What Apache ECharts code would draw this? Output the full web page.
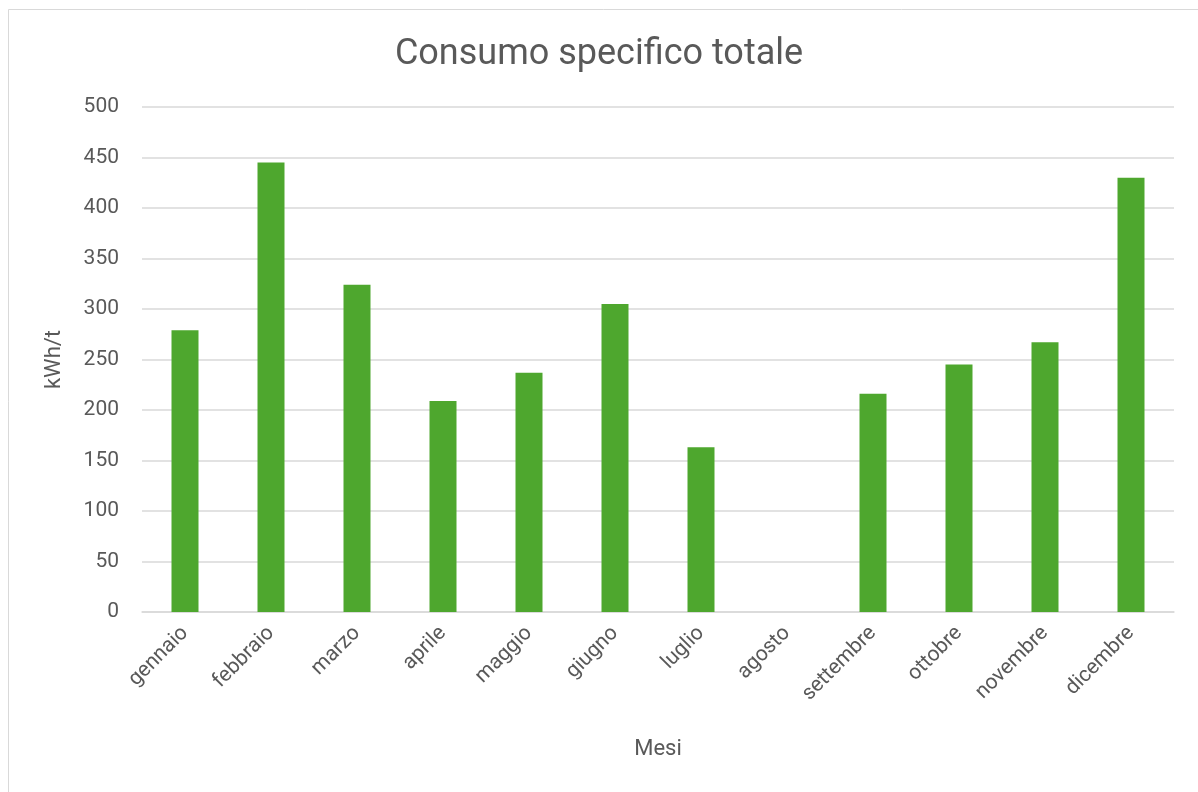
<!DOCTYPE html>
<html>
<head>
<meta charset="utf-8">
<script src="https://cdn.jsdelivr.net/npm/echarts@6/dist/echarts.min.js"></script>
<style>
html,body{margin:0;padding:0;background:#fff;}
#chart{width:1198px;height:792px;}
</style>
</head>
<body>
<div id="chart"></div>
<script>
const categories = ['gennaio','febbraio','marzo','aprile','maggio','giugno','luglio','agosto','settembre','ottobre','novembre','dicembre'];
const values = [279, 445, 324, 209, 237, 305, 163, 0, 216, 245, 267, 430];
const titleText = 'Consumo specifico totale';
const yName = 'kWh/t';
const xName = 'Mesi';

const chart = echarts.init(document.getElementById('chart'));
const textColor = '#595959';
const fontFam = 'Roboto, "Liberation Sans", sans-serif';
chart.setOption({
  backgroundColor: '#fff',
  animation: false,
  graphic: [{
    type: 'rect',
    shape: {x: 8.5, y: 9.5, width: 1200, height: 800},
    style: {fill: 'none', stroke: '#D9D9D9', lineWidth: 1},
    silent: true
  }],
  title: {
    text: titleText,
    left: 'center',
    top: 32,
    textStyle: {fontFamily: fontFam, fontSize: 36, fontWeight: 'normal', color: textColor}
  },
  grid: {left: 142, right: 24, top: 107, bottom: 180, containLabel: false},
  xAxis: {
    type: 'category',
    data: categories,
    name: xName,
    nameLocation: 'middle',
    nameGap: 126,
    nameTextStyle: {fontFamily: fontFam, fontSize: 22, color: textColor},
    axisLine: {show: true, lineStyle: {color: '#D9D9D9', width: 1.5}},
    axisTick: {show: false},
    axisLabel: {rotate: 45, margin: 18, fontFamily: fontFam, fontSize: 21, color: textColor, interval: 0}
  },
  yAxis: {
    type: 'value',
    min: 0,
    max: 500,
    interval: 50,
    name: yName,
    nameLocation: 'middle',
    nameGap: 77,
    nameRotate: 90,
    nameTextStyle: {fontFamily: fontFam, fontSize: 22, color: textColor},
    axisLine: {show: false},
    axisTick: {show: false},
    axisLabel: {margin: 23, fontFamily: fontFam, fontSize: 21, color: textColor},
    splitLine: {lineStyle: {color: '#D9D9D9', width: 1.5}}
  },
  series: [{
    type: 'bar',
    data: values,
    barWidth: 27,
    itemStyle: {color: '#4EA72E'}
  }]
});
</script>
</body>
</html>
